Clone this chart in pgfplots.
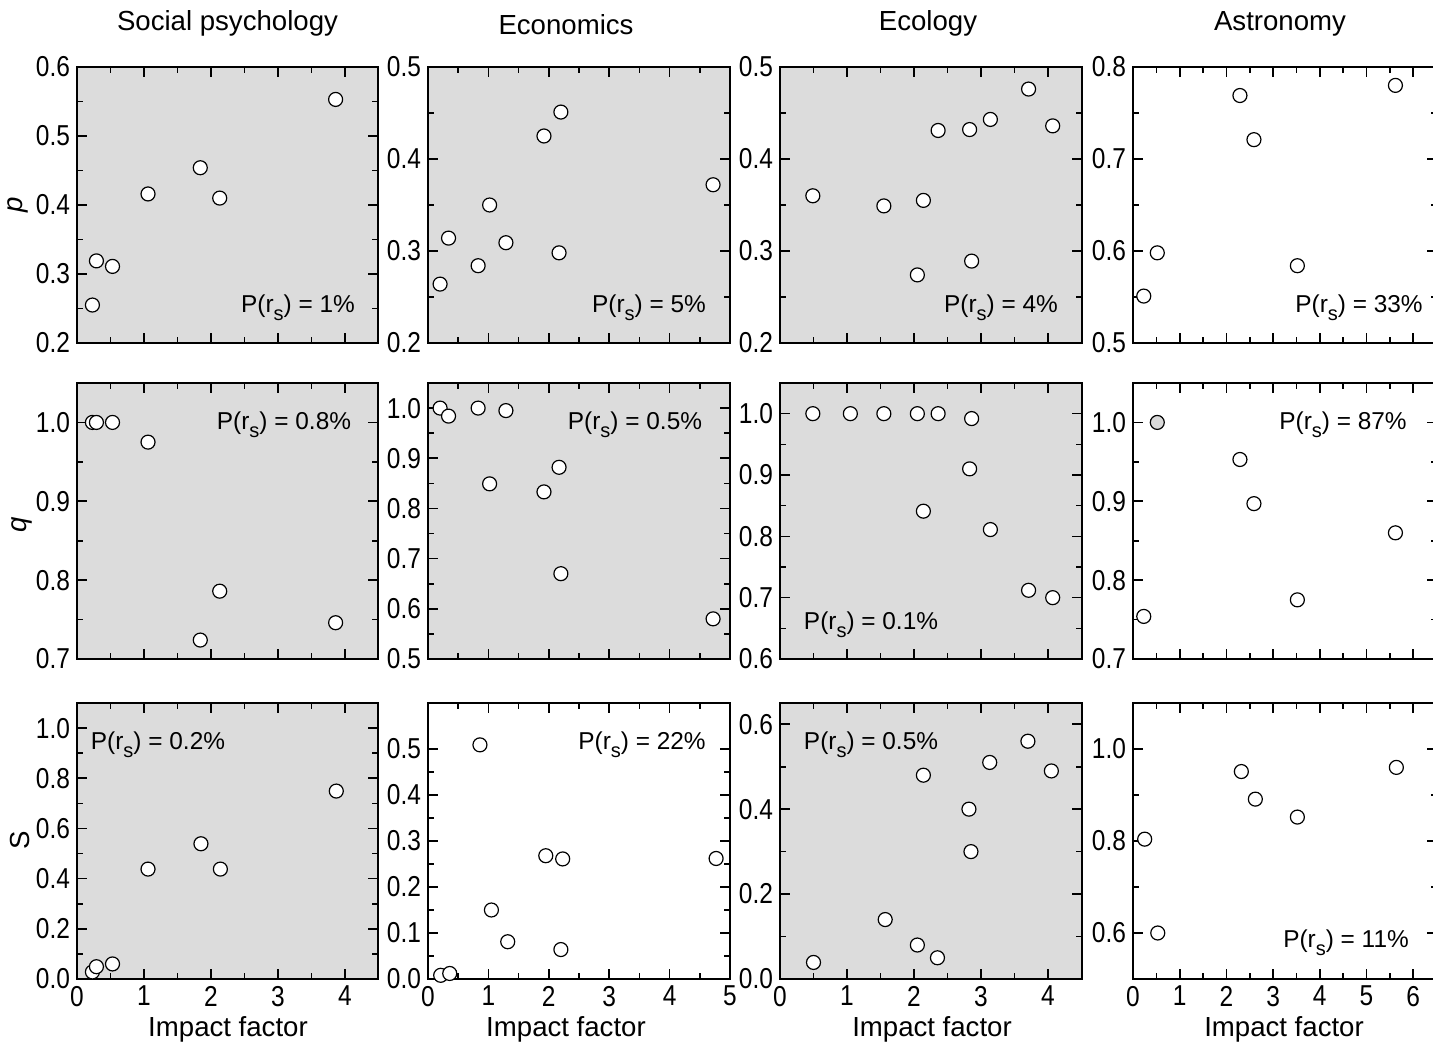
\documentclass[border=0pt]{standalone}
\usepackage{fontspec}
\setmainfont{Liberation Sans}
\newfontfamily\condfont{Liberation Sans}[FakeStretch=0.85]
\usepackage{pgfplots}
\pgfplotsset{compat=1.18}
\definecolor{bggray}{HTML}{DCDCDC}
\definecolor{ptgray}{HTML}{D9D9D9}

\pgfplotsset{
  panel/.style={
    scale only axis, anchor=south west,
    height=138pt,
    tick align=inside,
    major tick length=5pt, minor tick length=3pt,
    axis line style={line width=1pt},
    every tick/.style={black, line width=0.8pt},
    tick label style={font=\condfont\fontsize{14.4}{16}\selectfont},
    /pgf/number format/assume math mode=true,
    yticklabel style={/pgf/number format/.cd, fixed, fixed zerofill, precision=1},
    minor x tick num=1, minor y tick num=1,
  },
  sig/.style={axis background/.style={fill=bggray}},
  nolab/.style={xticklabels={}},
  c1/.style={at={(38.5pt,#1)}, width=150.75pt, xmin=0, xmax=4.5, xtick={0,1,2,3,4}},
  c2/.style={at={(214pt,#1)}, width=151pt, xmin=0, xmax=5, xtick={0,1,2,3,4,5}},
  c3/.style={at={(390pt,#1)}, width=150.75pt, xmin=0, xmax=4.5, xtick={0,1,2,3,4}},
  c4/.style={at={(566.5pt,#1)}, width=151.75pt, xmin=0, xmax=6.5, xtick={0,1,2,3,4,5,6}},
  pts/.style={only marks, mark=*, mark size=3.5pt,
    mark options={fill=white, draw=black, line width=0.6pt}},
}
\newcommand{\Prs}[1]{P(r\raisebox{-0.55ex}{\fontsize{10}{11}\selectfont s}) = #1}

\begin{document}
\begin{tikzpicture}
\useasboundingbox (0,0) rectangle (716.5pt,524pt);

% ---- row 1: p ----
\begin{axis}[panel, sig, nolab, c1=352.5pt, ymin=0.2, ymax=0.6, ytick={0.2,0.3,0.4,0.5,0.6}]
\addplot[pts] coordinates {(0.23,0.255) (0.29,0.319) (0.53,0.311) (1.06,0.416) (1.84,0.454) (2.13,0.410) (3.86,0.553)};
\end{axis}
\begin{axis}[panel, sig, nolab, c2=352.5pt, ymin=0.2, ymax=0.5, ytick={0.2,0.3,0.4,0.5}]
\addplot[pts] coordinates {(0.20,0.264) (0.34,0.314) (0.83,0.284) (1.02,0.350) (1.29,0.309) (1.92,0.425) (2.20,0.451) (2.17,0.298) (4.72,0.372)};
\end{axis}
\begin{axis}[panel, sig, nolab, c3=352.5pt, ymin=0.2, ymax=0.5, ytick={0.2,0.3,0.4,0.5}]
\addplot[pts] coordinates {(0.49,0.360) (1.55,0.349) (2.05,0.274) (2.14,0.355) (2.36,0.431) (2.83,0.432) (2.86,0.289) (3.14,0.443) (3.71,0.476) (4.07,0.436)};
\end{axis}
\begin{axis}[panel, nolab, c4=352.5pt, ymin=0.5, ymax=0.8, ytick={0.5,0.6,0.7,0.8}]
\addplot[pts] coordinates {(0.23,0.551) (0.52,0.598) (2.29,0.769) (2.59,0.721) (3.52,0.584) (5.62,0.780)};
\end{axis}

% ---- row 2: q ----
\begin{axis}[panel, sig, nolab, c1=194.5pt, ymin=0.7, ymax=1.05, ytick={0.7,0.8,0.9,1.0}]
\addplot[pts] coordinates {(0.23,1.0) (0.29,1.0) (0.53,1.0) (1.06,0.975) (1.84,0.724) (2.13,0.786) (3.86,0.746)};
\end{axis}
\begin{axis}[panel, sig, nolab, c2=194.5pt, ymin=0.5, ymax=1.05, ytick={0.5,0.6,0.7,0.8,0.9,1.0}]
\addplot[pts] coordinates {(0.20,1.0) (0.34,0.984) (0.83,1.0) (1.02,0.849) (1.29,0.995) (1.92,0.833) (2.17,0.882) (2.20,0.670) (4.72,0.580)};
\end{axis}
\begin{axis}[panel, sig, nolab, c3=194.5pt, ymin=0.6, ymax=1.05, ytick={0.6,0.7,0.8,0.9,1.0}]
\addplot[pts] coordinates {(0.49,1.0) (1.05,1.0) (1.55,1.0) (2.05,1.0) (2.36,1.0) (2.86,0.992) (2.83,0.910) (2.14,0.841) (3.14,0.811) (3.71,0.712) (4.07,0.700)};
\end{axis}
\begin{axis}[panel, nolab, c4=194.5pt, ymin=0.7, ymax=1.05, ytick={0.7,0.8,0.9,1.0}]
\addplot[pts] coordinates {(0.23,0.754) (2.29,0.953) (2.59,0.897) (3.52,0.775) (5.62,0.860)};
\addplot[pts, mark options={fill=ptgray, draw=black, line width=0.6pt}] coordinates {(0.52,1.0)};
\end{axis}

% ---- row 3: S ----
\begin{axis}[panel, sig, c1=34.5pt, ymin=0, ymax=1.1, ytick={0,0.2,0.4,0.6,0.8,1.0}]
\addplot[pts] coordinates {(0.23,0.028) (0.29,0.049) (0.53,0.060) (1.06,0.438) (1.85,0.539) (2.14,0.438) (3.87,0.749)};
\end{axis}
\begin{axis}[panel, c2=34.5pt, ymin=0, ymax=0.6, ytick={0,0.1,0.2,0.3,0.4,0.5}]
\addplot[pts] coordinates {(0.21,0.008) (0.36,0.012) (0.86,0.509) (1.05,0.150) (1.32,0.081) (1.95,0.268) (2.23,0.261) (2.20,0.064) (4.77,0.262)};
\end{axis}
\begin{axis}[panel, sig, c3=34.5pt, ymin=0, ymax=0.65, ytick={0,0.2,0.4,0.6}]
\addplot[pts] coordinates {(0.50,0.039) (1.57,0.140) (2.05,0.080) (2.14,0.480) (2.35,0.050) (2.82,0.400) (2.85,0.300) (3.13,0.510) (3.70,0.560) (4.05,0.490)};
\end{axis}
\begin{axis}[panel, c4=34.5pt, ymin=0.5, ymax=1.1, ytick={0.6,0.8,1.0}, minor ytick={0.5,0.7,0.9,1.1}]
\addplot[pts] coordinates {(0.25,0.804) (0.53,0.600) (2.32,0.951) (2.62,0.891) (3.52,0.852) (5.64,0.960)};
\end{axis}

% ---- titles and labels ----
\begin{scope}[every node/.style={font=\fontsize{13.8}{16}\selectfont, inner sep=0pt}]
\node[anchor=base] at (113.75pt,508.5pt) {Social psychology};
\node[anchor=base] at (283pt,506.5pt) {Economics};
\node[anchor=base] at (464pt,508.5pt) {Ecology};
\node[anchor=base] at (640pt,508.5pt) {Astronomy};
\node[anchor=base] at (114pt,5.5pt) {Impact factor};
\node[anchor=base] at (283pt,5.5pt) {Impact factor};
\node[anchor=base] at (466pt,5.5pt) {Impact factor};
\node[anchor=base] at (642pt,5.5pt) {Impact factor};
\node[rotate=90] at (9pt,421.5pt) {\itshape p};
\node[rotate=90] at (11pt,261.5pt) {\itshape q};
\node[rotate=90] at (10pt,104pt) {S};
\end{scope}

\begin{scope}[every node/.style={font=\fontsize{12.2}{14}\selectfont, inner sep=0pt, anchor=base}]
\node at (149pt,367.5pt) {\Prs{1\%}};
\node at (324.5pt,367.5pt) {\Prs{5\%}};
\node at (500.5pt,367.5pt) {\Prs{4\%}};
\node at (679.5pt,367.5pt) {\Prs{33\%}};
\node at (142pt,309pt) {\Prs{0.8\%}};
\node at (317.5pt,309pt) {\Prs{0.5\%}};
\node at (435.5pt,209pt) {\Prs{0.1\%}};
\node at (671.5pt,309pt) {\Prs{87\%}};
\node at (79pt,149pt) {\Prs{0.2\%}};
\node at (321pt,149pt) {\Prs{22\%}};
\node at (435.5pt,149pt) {\Prs{0.5\%}};
\node at (673pt,50pt) {\Prs{11\%}};
\end{scope}
\end{tikzpicture}
\end{document}
